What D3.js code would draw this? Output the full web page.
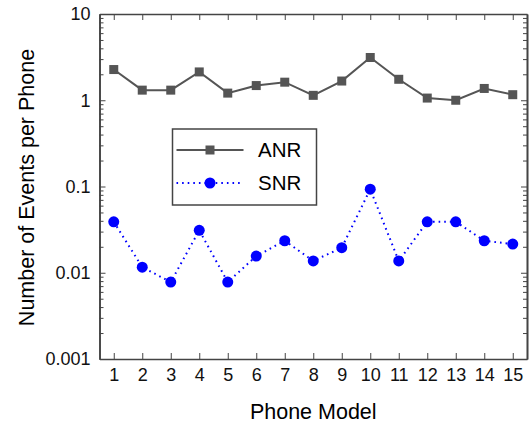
<!DOCTYPE html>
<html>
<head>
<meta charset="utf-8">
<script src="https://cdn.jsdelivr.net/npm/d3@7"></script>
<style>
  body { margin: 0; background: #fff; }
  text { font-family: "Liberation Sans", Arial, sans-serif; }
</style>
</head>
<body>
<script>
// data
const phoneModels = [1, 2, 3, 4, 5, 6, 7, 8, 9, 10, 11, 12, 13, 14, 15]
const anrValues = [2.27, 1.31, 1.31, 2.13, 1.21, 1.48, 1.62, 1.14, 1.67, 3.13, 1.75, 1.06, 1.0, 1.37, 1.16]
const snrValues = [0.039, 0.0116, 0.0078, 0.031, 0.0078, 0.0156, 0.0235, 0.0137, 0.0195, 0.093, 0.0137, 0.039, 0.039, 0.0235, 0.0215]
const yTickValues = [0.001, 0.01, 0.1, 1, 10]
const yTickLabels = ["0.001", "0.01", "0.1", "1", "10"]

function drawChart() {
  let dimensions = {
    width: 531,
    height: 426,
    margin: { top: 14, right: 4, bottom: 67, left: 99.5 },
  }
  dimensions.boundedWidth = dimensions.width - dimensions.margin.left - dimensions.margin.right
  dimensions.boundedHeight = dimensions.height - dimensions.margin.top - dimensions.margin.bottom

  const axisColor = "#444"

  const wrapper = d3.select("body")
    .append("svg")
      .attr("width", dimensions.width)
      .attr("height", dimensions.height)

  const bounds = wrapper.append("g")
      .attr("transform", `translate(${dimensions.margin.left}, ${dimensions.margin.top})`)

  // scales
  const xScale = d3.scaleLinear()
    .domain([0.5, 15.5])
    .range([0, dimensions.boundedWidth])

  const yScale = d3.scaleLog()
    .domain([0.001, 10])
    .range([dimensions.boundedHeight, 0])

  // minor ticks for log axis
  const minorTicks = yScale.ticks().filter(v => !yTickValues.includes(v))

  // axes (ticks pointing inward, mirrored on opposite sides)
  const xAxisBottom = d3.axisBottom(xScale)
    .tickValues(phoneModels)
    .tickSizeInner(-6)
    .tickSizeOuter(0)
    .tickPadding(9)

  const xAxisTop = d3.axisTop(xScale)
    .tickValues(phoneModels)
    .tickSizeInner(-6)
    .tickSizeOuter(0)
    .tickFormat("")

  const yAxisLeft = d3.axisLeft(yScale)
    .tickValues(yTickValues)
    .tickFormat((d, i) => yTickLabels[i])
    .tickSizeInner(-6)
    .tickSizeOuter(0)
    .tickPadding(9)

  const yAxisRight = d3.axisRight(yScale)
    .tickValues(yTickValues)
    .tickFormat("")
    .tickSizeInner(-6)
    .tickSizeOuter(0)

  const yMinorLeft = d3.axisLeft(yScale).tickValues(minorTicks).tickFormat("").tickSizeInner(-4).tickSizeOuter(0)
  const yMinorRight = d3.axisRight(yScale).tickValues(minorTicks).tickFormat("").tickSizeInner(-4).tickSizeOuter(0)

  const styleAxis = g => {
    g.attr("font-size", null).attr("font-family", null)
    g.select(".domain").attr("stroke", axisColor).attr("stroke-width", 1.6)
    g.selectAll(".tick line").attr("stroke", axisColor).attr("stroke-width", 1)
    g.selectAll(".tick text")
      .attr("fill", "#111")
      .style("font-size", "18px")
  }

  bounds.append("g").call(yMinorLeft).call(styleAxis)
  bounds.append("g")
      .attr("transform", `translate(${dimensions.boundedWidth}, 0)`)
      .call(yMinorRight).call(styleAxis)
  bounds.append("g")
      .attr("transform", `translate(${dimensions.boundedWidth}, 0)`)
      .call(yAxisRight).call(styleAxis)
  bounds.append("g").call(xAxisTop).call(styleAxis)
  bounds.append("g").call(yAxisLeft).call(styleAxis)
  bounds.append("g")
      .attr("transform", `translate(0, ${dimensions.boundedHeight})`)
      .call(xAxisBottom).call(styleAxis)

  // lines
  const seriesLine = d3.line()
    .x((d, i) => xScale(phoneModels[i]))
    .y(d => yScale(d))

  bounds.append("path")
      .datum(anrValues)
      .attr("d", seriesLine)
      .attr("fill", "none")
      .attr("stroke", "#555")
      .attr("stroke-width", 2)

  bounds.append("path")
      .datum(snrValues)
      .attr("d", seriesLine)
      .attr("fill", "none")
      .attr("stroke", "#0000ff")
      .attr("stroke-width", 2)
      .attr("stroke-dasharray", "1.6 4")

  // markers
  bounds.selectAll(".anr")
    .data(anrValues)
    .join("rect")
      .attr("class", "anr")
      .attr("x", (d, i) => xScale(phoneModels[i]) - 4.5)
      .attr("y", d => yScale(d) - 4.5)
      .attr("width", 9)
      .attr("height", 9)
      .attr("fill", "#555")

  bounds.selectAll(".snr")
    .data(snrValues)
    .join("circle")
      .attr("class", "snr")
      .attr("cx", (d, i) => xScale(phoneModels[i]))
      .attr("cy", d => yScale(d))
      .attr("r", 5.5)
      .attr("fill", "#0000ff")

  // legend
  const legend = wrapper.append("g")
      .attr("transform", "translate(172.5, 129)")

  legend.append("rect")
      .attr("width", 144)
      .attr("height", 76)
      .attr("fill", "#fff")
      .attr("stroke", axisColor)
      .attr("stroke-width", 1.5)

  legend.append("line")
      .attr("x1", 4).attr("x2", 71).attr("y1", 21).attr("y2", 21)
      .attr("stroke", "#555").attr("stroke-width", 2)
  legend.append("rect")
      .attr("x", 33).attr("y", 16.5).attr("width", 9).attr("height", 9)
      .attr("fill", "#555")
  legend.append("text")
      .attr("x", 85.5).attr("y", 28)
      .style("font-size", "20.5px")
      .text("ANR")

  legend.append("line")
      .attr("x1", 4).attr("x2", 71).attr("y1", 54).attr("y2", 54)
      .attr("stroke", "#0000ff").attr("stroke-width", 2)
      .attr("stroke-dasharray", "1.6 4")
  legend.append("circle")
      .attr("cx", 37.5).attr("cy", 54).attr("r", 5.5)
      .attr("fill", "#0000ff")
  legend.append("text")
      .attr("x", 85.5).attr("y", 61)
      .style("font-size", "20.5px")
      .text("SNR")

  // axis labels
  wrapper.append("text")
      .attr("x", dimensions.margin.left + dimensions.boundedWidth / 2)
      .attr("y", 419)
      .attr("text-anchor", "middle")
      .style("font-size", "21.5px")
      .text("Phone Model")

  wrapper.append("text")
      .attr("transform", `translate(33.5, ${dimensions.margin.top + dimensions.boundedHeight / 2 + 1}) rotate(-90)`)
      .attr("text-anchor", "middle")
      .style("font-size", "21.5px")
      .text("Number of Events per Phone")
}
drawChart()
</script>
</body>
</html>
